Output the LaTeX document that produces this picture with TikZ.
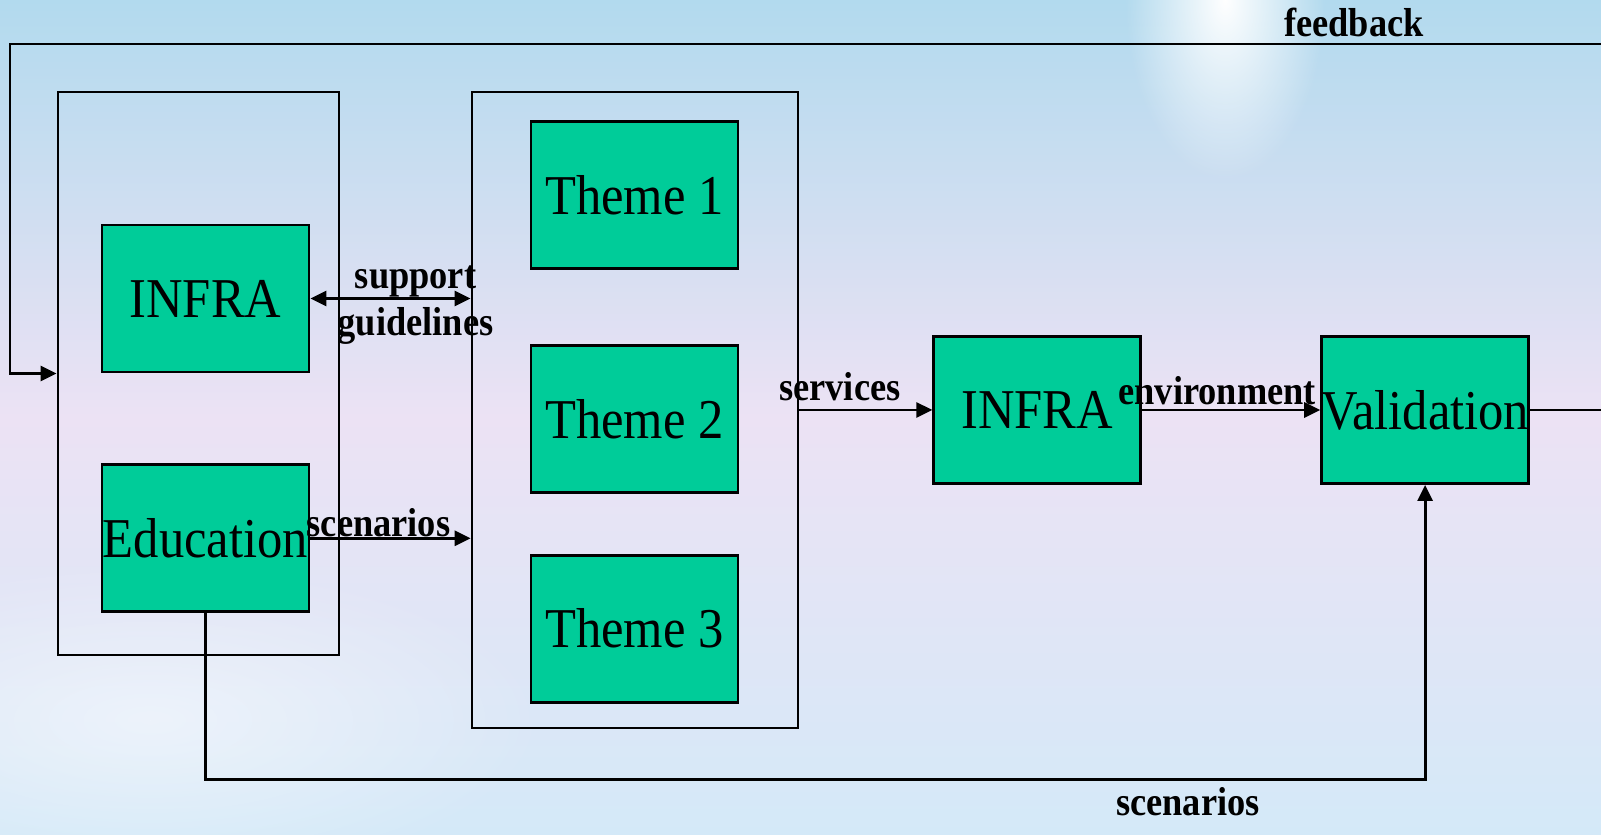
\documentclass[tikz,border=0pt]{standalone}
\usepackage{fontspec}
\setmainfont{Liberation Serif}[FakeStretch=0.9]
\usetikzlibrary{arrows.meta,positioning,fadings}
\definecolor{boxgreen}{RGB}{0,204,153}
\definecolor{skytop}{RGB}{178,218,238}
\definecolor{skymid}{RGB}{236,226,244}
\definecolor{skybot}{RGB}{212,233,248}
\tikzfading[name=glow, inner color=transparent!0, outer color=transparent!100]

\begin{document}
\begin{tikzpicture}[node distance = 1cm, line width=0.8pt, >={Triangle[length=1.6mm,width=1.5mm]},
  box/.style={rectangle, draw=black, fill=boxgreen, minimum width=2.07cm, minimum height=1.47cm, inner sep=0pt, font=\fontsize{16}{19}\selectfont},
  grp/.style={rectangle, draw=black, inner sep=0pt},
  lbl/.style={font=\fontsize{11.5}{13}\selectfont\bfseries, inner sep=0pt}]
  \useasboundingbox (0,0) rectangle (16.01,-8.35);
  \shade[top color=skytop, bottom color=skybot, middle color=skymid] (0,0) rectangle (16.01,-8.35);
  \fill[white, path fading=glow] (12.25,0) ellipse (1.0 and 1.8);
  \fill[white, opacity=.5, path fading=glow] (1.5,-7.2) ellipse (4 and 1.6);

  \node[grp, minimum width=2.81cm, minimum height=5.63cm] (left) at (1.985,-3.735) {};
  \node[grp, minimum width=3.26cm, minimum height=6.36cm] (mid) at (6.35,-4.10) {};

  \node[box] (infra) at (2.055,-2.985) {INFRA};
  \node[box, below=0.9cm of infra] (edu) {\makebox[0pt]{Education}};
  \node[box] (th1) at (6.345,-1.95) {Theme 1};
  \node[box, below=0.74cm of th1] (th2) {Theme 2};
  \node[box, below=0.6cm of th2] (th3) {Theme 3};
  \node[box, right=1.33cm of mid] (infra2) {INFRA};
  \node[box, right=1.78cm of infra2] (val) {\makebox[0pt]{Validation}};

  \draw[<->] (infra.east) -- (infra.east -| mid.west)
    node[lbl, midway, above=0pt, xshift=.25cm] {support}
    node[lbl, midway, below=.08cm, xshift=.25cm] {guidelines};
  \draw[->] (edu.east) -- (edu.east -| mid.west) node[lbl, midway, above=0pt, xshift=-.12cm] {scenarios};
  \draw[->] (mid.east) -- (infra2.west) node[lbl, midway, above=.08cm, xshift=-.26cm] {services};
  \draw[->] (infra2.east) -- (val.west) node[lbl, midway, above=.04cm, xshift=-.14cm] {environment};
  \draw[->] (val.east) -- ++(1.2,0) |- (0.1,-0.44) |- (left.west);
  \draw[->] (edu.south) -- ++(0,-1.66) -| (val.south);

  \node[lbl] (fb) at (13.54,-0.22) {feedback};
  \node[lbl] (sc) at (11.88,-8.02) {scenarios};
\end{tikzpicture}
\end{document}
